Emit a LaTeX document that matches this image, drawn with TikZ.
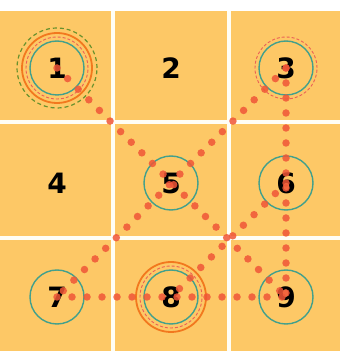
\documentclass[tikz,border=0pt]{standalone}
\usepackage{fontspec}
\setmainfont{DejaVu Sans}

\definecolor{padbg}{RGB}{253,200,102}
\definecolor{tealring}{RGB}{66,160,140}
\definecolor{redring}{RGB}{235,95,85}
\definecolor{orangering}{RGB}{242,120,30}
\definecolor{greenring}{RGB}{105,145,45}
\definecolor{dotred}{RGB}{240,85,55}

\tikzset{
    key/.style={circle, inner sep=0pt, minimum size=54pt, font=\bfseries\fontsize{28}{30}\selectfont},
    keyring/.style={key, draw=tealring, line width=1.4pt},
    ringred/.style={draw=redring, line width=0.9pt, dash pattern=on 3pt off 2pt},
    ringorange/.style={draw=orangering, line width=1.8pt},
    ringgreen/.style={draw=greenring, line width=1.2pt, dash pattern=on 4pt off 3pt},
    dotline/.style={draw=dotred, opacity=0.85, line width=7.5pt, line cap=round, dash pattern=on 0pt off 15pt}
}

\begin{document}
\begin{tikzpicture}[x=1pt, y=1pt, line join=round]
        \useasboundingbox (0,0) rectangle (341,351);
        % Tafel mit weissen Fugen
        \fill[padbg] (0,0) rectangle (340,340);
        \draw[white!96!yellow, line width=4pt] (112.5,0) -- (112.5,340);
        \draw[white!96!yellow, line width=4pt] (228.5,0) -- (228.5,340);
        \draw[white!96!yellow, line width=4pt] (0,112.5) -- (340,112.5);
        \draw[white!96!yellow, line width=4pt] (0,228.5) -- (340,228.5);

        % Tasten
        \node[keyring] (n1) at (57,283) {1};
        \node[key]     (n2) at (171,283) {2};
        \node[keyring] (n3) at (286,283) {3};
        \node[key]     (n4) at (57,168) {4};
        \node[keyring] (n5) at (171,168) {5};
        \node[keyring] (n6) at (286,168) {6};
        \node[keyring] (n7) at (57,54) {7};
        \node[keyring] (n8) at (171,54) {8};
        \node[keyring] (n9) at (286,54) {9};

        % zusaetzliche Ringe
        \draw[ringred] (n1.center) circle (31pt);
        \draw[ringorange] (n1.center) circle (35pt);
        \draw[ringgreen] (n1.center) circle (40pt);
        \draw[ringred] (n3.center) circle (31pt);
        \draw[ringred] (n8.center) circle (31pt);
        \draw[ringorange] (n8.center) circle (35pt);

        % Punktlinien (durch 5, 6 und 8)
        \draw[dotline] (n1.center) -- (n9.center);
        \draw[dotline] (n3.center) -- (n7.center);
        \draw[dotline] (n3.center) -- (n9.center);
        \draw[dotline] (n7.center) -- (n9.center);
        \draw[dotline] (n6.center) -- (n8.center);
    \end{tikzpicture}
\end{document}
